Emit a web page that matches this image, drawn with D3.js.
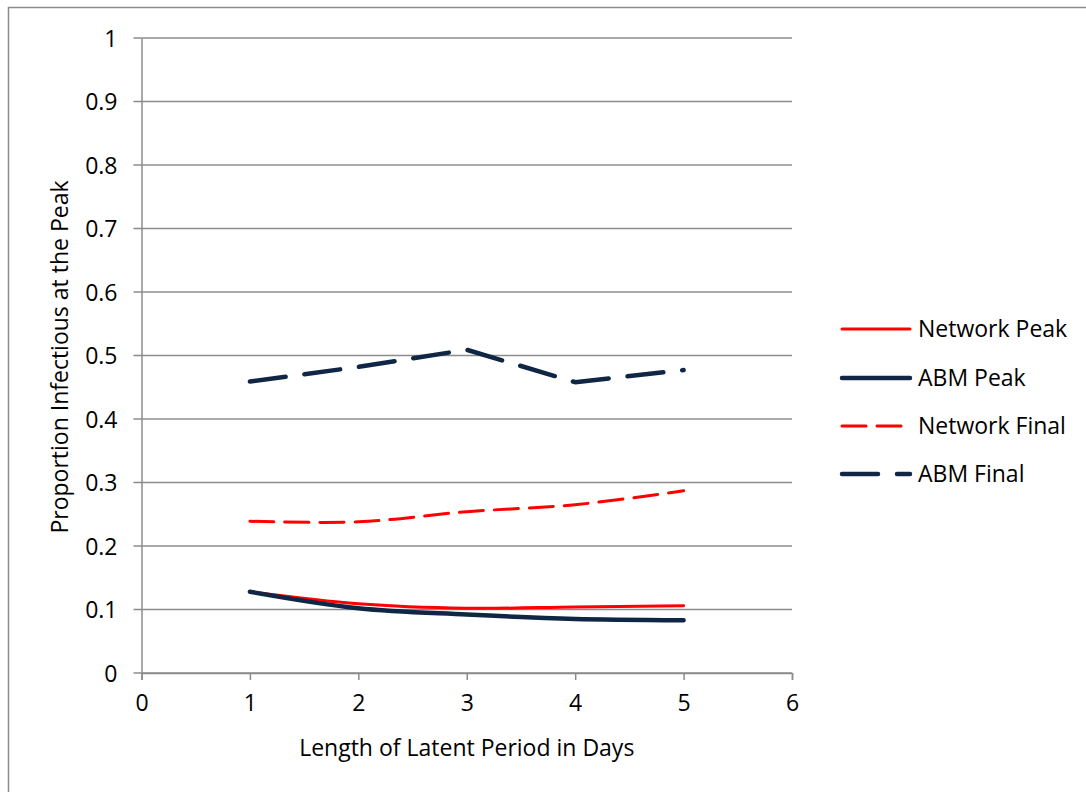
<!DOCTYPE html>
<html>
<head>
<meta charset="utf-8">
<script src="https://cdn.jsdelivr.net/npm/d3@7"></script>
<style>
  body { margin: 0; background: #fff; }
  svg { display: block; font-family: "Open Sans", "Noto Sans", sans-serif; }
</style>
</head>
<body>
<svg width="1086" height="792"></svg>
<script>
// data
const days = [1, 2, 3, 4, 5];
const networkPeak = [0.128, 0.109, 0.102, 0.104, 0.106];
const abmPeak = [0.128, 0.102, 0.092, 0.085, 0.083];
const networkFinal = [0.239, 0.238, 0.254, 0.265, 0.287];
const abmFinal = [0.459, 0.482, 0.509, 0.458, 0.477];
const xTicks = [0, 1, 2, 3, 4, 5, 6];
const yTicks = [0, 0.1, 0.2, 0.3, 0.4, 0.5, 0.6, 0.7, 0.8, 0.9, 1];

let width = 1086;
let height = 792;
let svg = d3.select('svg');

const navy = "#0f2644";
const red = "#ff0000";
const grid = "#8c8c8c";
const fontSize = "23px";

// outer chart border
svg.append("rect")
   .attr("x", 8.5).attr("y", 7.5)
   .attr("width", 1090).attr("height", 800)
   .attr("fill", "none").attr("stroke", grid).attr("stroke-width", 1.5);

let xScale = d3.scaleLinear().domain([0, 6]).range([141.5, 792]);
let yScale = d3.scaleLinear().domain([0, 1]).range([673, 38]);

// horizontal gridlines
svg.append("g")
   .selectAll("line")
   .data(yTicks)
   .enter()
   .append("line")
   .attr("x1", xScale(0) - 8)
   .attr("x2", xScale(6))
   .attr("y1", (d) => yScale(d))
   .attr("y2", (d) => yScale(d))
   .attr("stroke", grid)
   .attr("stroke-width", 1.5);

function drawAxis(){
    let xAxis = d3.axisBottom(xScale).tickValues(xTicks).tickSize(7).tickPadding(15)
                  .tickFormat((d) => String(d));
    let yAxis = d3.axisLeft(yScale).tickValues(yTicks).tickSize(0).tickPadding(24)
                  .tickFormat((d) => String(+d.toFixed(1)));

    let gx = svg.append('g')
       .attr("transform", "translate(0, " + yScale(0) + ")")
       .call(xAxis);
    let gy = svg.append('g')
       .attr("transform", "translate(" + xScale(0) + ", 0)")
       .call(yAxis);

    [gx, gy].forEach((g) => {
        g.attr("font-size", null).attr("font-family", null);
        g.select(".domain").attr("stroke", grid).attr("stroke-width", 1.5);
        g.selectAll(".tick line").attr("stroke", grid).attr("stroke-width", 1.5);
        g.selectAll("text").attr("fill", "#000").style("font-size", fontSize);
    });
    gy.selectAll("text").attr("dy", "0.35em");
}
drawAxis();

// axis titles
svg.append("text")
   .attr("x", xScale(3)).attr("y", 756)
   .attr("text-anchor", "middle")
   .style("font-size", fontSize)
   .text("Length of Latent Period in Days");

svg.append("text")
   .attr("transform", "translate(68, 357) rotate(-90)")
   .attr("text-anchor", "middle")
   .style("font-size", fontSize)
   .text("Proportion Infectious at the Peak");

const series = [
  { name: "Network Peak", values: networkPeak, color: red, width: 3, dash: null, smooth: true },
  { name: "ABM Peak", values: abmPeak, color: navy, width: 4.5, dash: null, smooth: true },
  { name: "Network Final", values: networkFinal, color: red, width: 3, dash: "24,11", smooth: true },
  { name: "ABM Final", values: abmFinal, color: navy, width: 4.5, dash: "36,19", smooth: false }
];

// draw final lines first so the peaks sit on top like the reference
[2, 3, 0, 1].forEach((k) => {
    let s = series[k];
    let line = d3.line()
       .x((d, i) => xScale(days[i]))
       .y((d) => yScale(d))
       .curve(s.smooth ? d3.curveCatmullRom.alpha(0.5) : d3.curveLinear);
    svg.append("path")
       .datum(s.values)
       .attr("d", line)
       .attr("fill", "none")
       .attr("stroke", s.color)
       .attr("stroke-width", s.width)
       .attr("stroke-linecap", "round")
       .attr("stroke-linejoin", "round")
       .attr("stroke-dasharray", s.dash);
});

// legend
let legend = svg.append("g");
let legendY = [329, 378, 426, 474];
series.forEach((s, i) => {
    legend.append("line")
       .attr("x1", 842).attr("x2", 910)
       .attr("y1", legendY[i]).attr("y2", legendY[i])
       .attr("stroke", s.color)
       .attr("stroke-width", s.width)
       .attr("stroke-linecap", "round")
       .attr("stroke-dasharray", s.dash);
    legend.append("text")
       .attr("x", 918).attr("y", legendY[i])
       .attr("dy", "0.35em")
       .style("font-size", fontSize)
       .text(s.name);
});
</script>
</body>
</html>
